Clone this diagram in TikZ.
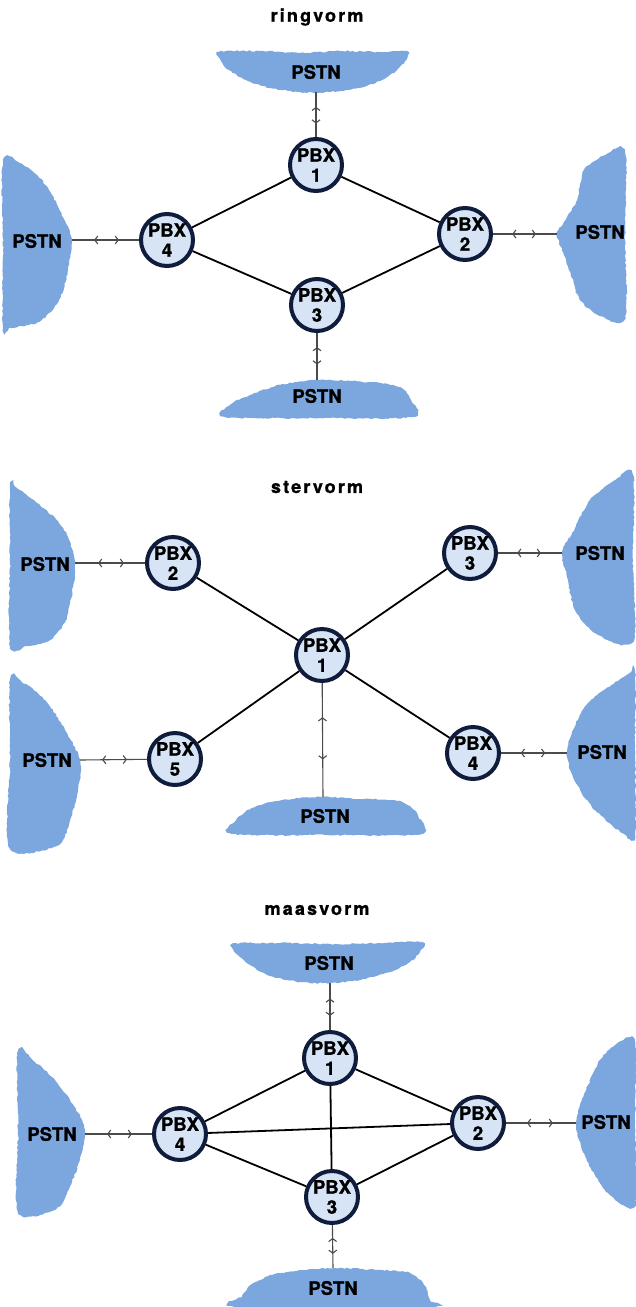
\documentclass[tikz,border=0pt]{standalone}
\usepackage{fontspec}
\setmainfont{TeX Gyre Heros}
\newfontfamily\heavyfont{TeX Gyre Heros}[BoldFeatures={FakeBold=1.2}]
\newfontfamily\titlefont{TeX Gyre Heros}[LetterSpace=12, BoldFeatures={FakeBold=1.2}]
\usetikzlibrary{arrows.meta,decorations.markings,decorations.pathmorphing}

\definecolor{cloud}{RGB}{124,167,222}
\definecolor{pbxfill}{RGB}{214,228,246}
\definecolor{pbxring}{RGB}{16,28,60}
\definecolor{wire}{RGB}{75,75,75}

\tikzset{
  pbx/.style={circle, draw=pbxring, fill=pbxfill, line width=4pt,
    minimum size=52pt, inner sep=0pt, align=center,
    font=\heavyfont\bfseries\fontsize{18.5}{20}\selectfont},
  cloudlabel/.style={inner sep=0pt, font=\heavyfont\bfseries\fontsize{18.5}{20}\selectfont},
  heading/.style={inner sep=0pt, font=\titlefont\bfseries\fontsize{18}{20}\selectfont},
  cloudshape/.style={fill=cloud, decorate,
    decoration={random steps, segment length=2.5pt, amplitude=0.7pt}},
  trunk/.style={line width=1.8pt, black},
  feed/.style={draw=wire, line width=1.1pt, postaction={decorate},
    decoration={markings,
      mark=at position 0.33 with {\arrowreversed{Straight Barb[length=3pt,width=8pt,line width=1.1pt]}},
      mark=at position 0.70 with {\arrow{Straight Barb[length=3pt,width=8pt,line width=1.1pt]}}}}
}

\begin{document}
\begin{tikzpicture}[x=1pt,y=-1pt]
\pgfmathsetseed{7}
\useasboundingbox (0,0) rectangle (635,1307);

% ---------------- ring ----------------
\node[heading] (hring) at (317,17) {ringvorm};

\fill[cloudshape] plot[smooth cycle, tension=0.5] coordinates {
  (219,52) (260,51) (300,53) (340,51) (380,52) (407,51) (405,61) (396,71)
  (382,80) (358,88) (330,92) (300,92) (270,88) (246,80) (229,70) (221,61)};
\fill[cloudshape] plot[smooth cycle, tension=0.5] coordinates {
  (3,161) (20,163) (38,176) (52,195) (63,217) (72,240) (69,262)
  (64,288) (54,308) (38,322) (12,328) (3,328) (3,250)};
\fill[cloudshape] plot[smooth cycle, tension=0.5] coordinates {
  (625,152) (605,155) (584,170) (577,200) (564,222) (557,234) (563,252)
  (572,278) (580,300) (600,316) (625,318) (625,240)};
\fill[cloudshape] plot[smooth cycle, tension=0.5] coordinates {
  (225,417) (231,404) (250,395) (280,385) (316,380) (350,381) (388,384)
  (404,390) (411,400) (413,417) (320,418)};

\node[cloudlabel] (rt) at (316,72) {PSTN};
\node[cloudlabel] (rl) at (37,241) {PSTN};
\node[cloudlabel] (rr) at (600,232) {PSTN};
\node[cloudlabel] (rb) at (317,396) {PSTN};
\coordinate (rte) at (316,92);
\coordinate (rle) at (72,240);
\coordinate (rre) at (557,234);
\coordinate (rbe) at (317,380);

\node[pbx] (r1) at (316,165) {PBX\\1};
\node[pbx] (r2) at (465,234) {PBX\\2};
\node[pbx] (r3) at (317,305) {PBX\\3};
\node[pbx] (r4) at (167,240) {PBX\\4};

\draw[trunk] (r1) -- (r2);
\draw[trunk] (r2) -- (r3);
\draw[trunk] (r3) -- (r4);
\draw[trunk] (r4) -- (r1);

\draw[feed] (rte) -- (r1);
\draw[feed] (rle) -- (r4);
\draw[feed] (rre) -- (r2);
\draw[feed] (rbe) -- (r3);

% ---------------- star ----------------
\node[heading] (hstar) at (317,487) {stervorm};

\fill[cloudshape] plot[smooth cycle, tension=0.5] coordinates {
  (10,486) (16,487) (37,503) (57,520) (68,537) (75,563) (73,587)
  (66,620) (50,640) (28,646) (10,646) (10,560)};
\fill[cloudshape] plot[smooth cycle, tension=0.5] coordinates {
  (633,475) (615,480) (590,500) (575,528) (562,553) (568,580)
  (575,610) (598,635) (633,641) (633,560)};
\fill[cloudshape] plot[smooth cycle, tension=0.5] coordinates {
  (10,680) (22,682) (45,700) (65,730) (80,760) (78,790) (70,820)
  (58,845) (10,848) (10,760)};
\fill[cloudshape] plot[smooth cycle, tension=0.5] coordinates {
  (635,672) (628,674) (588,703) (573,730) (567,753) (573,777)
  (592,807) (622,833) (635,835) (635,750)};
\fill[cloudshape] plot[smooth cycle, tension=0.5] coordinates {
  (232,834) (236,820) (252,808) (282,800) (323,797) (360,799) (394,800)
  (410,806) (418,816) (420,834) (325,835)};

\node[cloudlabel] (sl1) at (45,564) {PSTN};
\node[cloudlabel] (sr1) at (600,553) {PSTN};
\node[cloudlabel] (sl2) at (47,760) {PSTN};
\node[cloudlabel] (sr2) at (602,752) {PSTN};
\node[cloudlabel] (sb) at (325,816) {PSTN};
\coordinate (sl1e) at (75,563);
\coordinate (sr1e) at (562,553);
\coordinate (sl2e) at (80,760);
\coordinate (sr2e) at (567,753);
\coordinate (sbe) at (323,797);

\node[pbx] (s1) at (322,655) {PBX\\1};
\node[pbx] (s2) at (173,563) {PBX\\2};
\node[pbx] (s3) at (470,553) {PBX\\3};
\node[pbx] (s4) at (473,753) {PBX\\4};
\node[pbx] (s5) at (175,759) {PBX\\5};

\draw[trunk] (s1) -- (s2);
\draw[trunk] (s1) -- (s3);
\draw[trunk] (s1) -- (s4);
\draw[trunk] (s1) -- (s5);

\draw[feed] (sl1e) -- (s2);
\draw[feed] (sr1e) -- (s3);
\draw[feed] (sl2e) -- (s5);
\draw[feed] (sr2e) -- (s4);
\draw[feed] (sbe) -- (s1);

% ---------------- mesh ----------------
\node[heading] (hmesh) at (317,910) {maasvorm};

\fill[cloudshape] plot[smooth cycle, tension=0.5] coordinates {
  (233,944) (280,943) (330,944) (380,943) (422,942) (420,952) (410,962)
  (390,972) (360,980) (330,983) (300,982) (270,976) (250,965) (238,955)};
\fill[cloudshape] plot[smooth cycle, tension=0.5] coordinates {
  (18,1051) (35,1062) (55,1080) (70,1100) (82,1120) (85,1135) (80,1160)
  (72,1182) (64,1200) (52,1211) (18,1212) (18,1130)};
\fill[cloudshape] plot[smooth cycle, tension=0.5] coordinates {
  (635,1041) (615,1045) (600,1060) (588,1085) (580,1105) (576,1123)
  (582,1150) (595,1175) (610,1195) (635,1205) (635,1120)};
\fill[cloudshape] plot[smooth cycle, tension=0.5] coordinates {
  (238,1307) (242,1296) (252,1284) (272,1275) (300,1270) (335,1268)
  (380,1270) (410,1273) (424,1285) (430,1300) (430,1307)};

\node[cloudlabel] (mt) at (329,963) {PSTN};
\node[cloudlabel] (ml) at (52,1134) {PSTN};
\node[cloudlabel] (mr) at (606,1122) {PSTN};
\node[cloudlabel] (mb) at (333,1288) {PSTN};
\coordinate (mte) at (330,983);
\coordinate (mle) at (85,1134);
\coordinate (mre) at (576,1123);
\coordinate (mbe) at (333,1268);

\node[pbx] (m1) at (330,1058) {PBX\\1};
\node[pbx] (m2) at (478,1123) {PBX\\2};
\node[pbx] (m3) at (332,1197) {PBX\\3};
\node[pbx] (m4) at (180,1134) {PBX\\4};

\draw[trunk] (m1) -- (m2);
\draw[trunk] (m2) -- (m3);
\draw[trunk] (m3) -- (m4);
\draw[trunk] (m4) -- (m1);
\draw[trunk] (m4) -- (m2);
\draw[trunk] (m1) -- (m3);

\draw[feed] (mte) -- (m1);
\draw[feed] (mle) -- (m4);
\draw[feed] (mre) -- (m2);
\draw[feed] (mbe) -- (m3);
\end{tikzpicture}
\end{document}
